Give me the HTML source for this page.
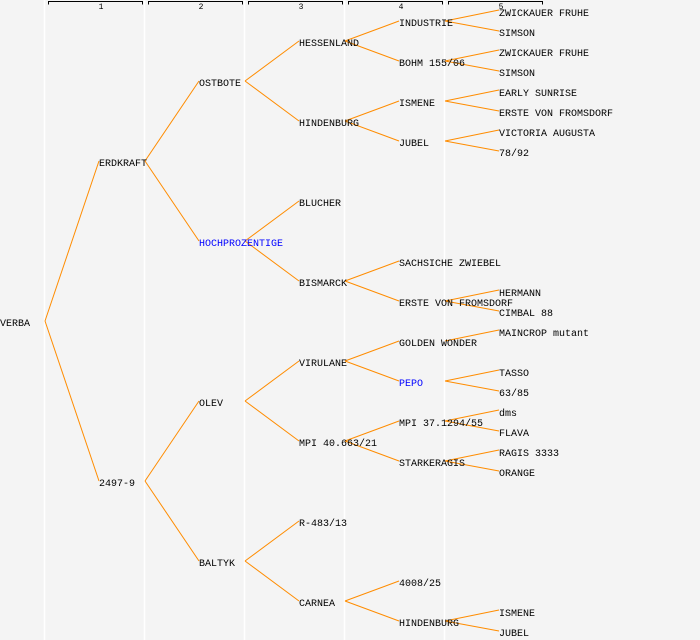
<!DOCTYPE html>
<html><head><style>
html,body{margin:0;padding:0;background:#f4f4f4;}
svg{display:block;}
text{font-family:"Liberation Mono","DejaVu Sans Mono",monospace;font-size:10px;fill:#000;}
.b{fill:#0000ff;}
line.c{stroke:#ff8c00;stroke-width:1;}
</style></head><body>
<svg width="700" height="640" xmlns="http://www.w3.org/2000/svg">
<rect width="700" height="640" fill="#f4f4f4"/>
<g stroke="#fff" stroke-width="1.5">
<line x1="44.5" y1="0" x2="44.5" y2="640"/><line x1="144.5" y1="0" x2="144.5" y2="640"/>
<line x1="244.5" y1="0" x2="244.5" y2="640"/><line x1="344.5" y1="0" x2="344.5" y2="640"/>
<line x1="444.5" y1="0" x2="444.5" y2="640"/>
</g>
<g stroke="#000" fill="none" stroke-width="1">
<path d="M48.5,4.5V1.5H142.5V4.5"/><path d="M148.5,4.5V1.5H242.5V4.5"/>
<path d="M248.5,4.5V1.5H342.5V4.5"/><path d="M348.5,4.5V1.5H442.5V4.5"/>
<path d="M448.5,4.5V1.5H542.5V4.5"/>
</g>
<g style="font-size:8px" text-anchor="middle">
<text x="101" y="9" style="font-size:8px">1</text><text x="201" y="9" style="font-size:8px">2</text>
<text x="301" y="9" style="font-size:8px">3</text><text x="401" y="9" style="font-size:8px">4</text>
<text x="501" y="9" style="font-size:8px">5</text>
</g>
<g>
<line class="c" x1="45" y1="321" x2="99" y2="161"/><line class="c" x1="45" y1="321" x2="99" y2="481"/>
<line class="c" x1="145" y1="161" x2="199" y2="81"/><line class="c" x1="145" y1="161" x2="199" y2="241"/>
<line class="c" x1="145" y1="481" x2="199" y2="401"/><line class="c" x1="145" y1="481" x2="199" y2="561"/>
<line class="c" x1="245" y1="81" x2="299" y2="41"/><line class="c" x1="245" y1="81" x2="299" y2="121"/>
<line class="c" x1="245" y1="241" x2="299" y2="201"/><line class="c" x1="245" y1="241" x2="299" y2="281"/>
<line class="c" x1="245" y1="401" x2="299" y2="361"/><line class="c" x1="245" y1="401" x2="299" y2="441"/>
<line class="c" x1="245" y1="561" x2="299" y2="521"/><line class="c" x1="245" y1="561" x2="299" y2="601"/>
<line class="c" x1="345" y1="41" x2="399" y2="21"/><line class="c" x1="345" y1="41" x2="399" y2="61"/>
<line class="c" x1="345" y1="121" x2="399" y2="101"/><line class="c" x1="345" y1="121" x2="399" y2="141"/>
<line class="c" x1="345" y1="281" x2="399" y2="261"/><line class="c" x1="345" y1="281" x2="399" y2="301"/>
<line class="c" x1="345" y1="361" x2="399" y2="341"/><line class="c" x1="345" y1="361" x2="399" y2="381"/>
<line class="c" x1="345" y1="441" x2="399" y2="421"/><line class="c" x1="345" y1="441" x2="399" y2="461"/>
<line class="c" x1="345" y1="601" x2="399" y2="581"/><line class="c" x1="345" y1="601" x2="399" y2="621"/>
<line class="c" x1="445" y1="21" x2="499" y2="10"/><line class="c" x1="445" y1="21" x2="499" y2="31"/>
<line class="c" x1="445" y1="61" x2="499" y2="50"/><line class="c" x1="445" y1="61" x2="499" y2="71"/>
<line class="c" x1="445" y1="101" x2="499" y2="90"/><line class="c" x1="445" y1="101" x2="499" y2="111"/>
<line class="c" x1="445" y1="141" x2="499" y2="130"/><line class="c" x1="445" y1="141" x2="499" y2="151"/>
<line class="c" x1="445" y1="301" x2="499" y2="290"/><line class="c" x1="445" y1="301" x2="499" y2="311"/>
<line class="c" x1="445" y1="341" x2="499" y2="330"/>
<line class="c" x1="445" y1="381" x2="499" y2="370"/><line class="c" x1="445" y1="381" x2="499" y2="391"/>
<line class="c" x1="445" y1="421" x2="499" y2="410"/><line class="c" x1="445" y1="421" x2="499" y2="431"/>
<line class="c" x1="445" y1="461" x2="499" y2="450"/><line class="c" x1="445" y1="461" x2="499" y2="471"/>
<line class="c" x1="445" y1="621" x2="499" y2="610"/><line class="c" x1="445" y1="621" x2="499" y2="631"/>
</g>
<g>
<text x="0" y="326">VERBA</text>
<text x="99" y="166">ERDKRAFT</text><text x="99" y="486">2497-9</text>
<text x="199" y="86">OSTBOTE</text><text x="199" y="246" class="b">HOCHPROZENTIGE</text>
<text x="199" y="406">OLEV</text><text x="199" y="566">BALTYK</text>
<text x="299" y="46">HESSENLAND</text><text x="299" y="126">HINDENBURG</text>
<text x="299" y="206">BLUCHER</text><text x="299" y="286">BISMARCK</text>
<text x="299" y="366">VIRULANE</text><text x="299" y="446">MPI 40.663/21</text>
<text x="299" y="526">R-483/13</text><text x="299" y="606">CARNEA</text>
<text x="399" y="26">INDUSTRIE</text><text x="399" y="66">BOHM 155/06</text>
<text x="399" y="106">ISMENE</text><text x="399" y="146">JUBEL</text>
<text x="399" y="266">SACHSICHE ZWIEBEL</text><text x="399" y="306">ERSTE VON FROMSDORF</text>
<text x="399" y="346">GOLDEN WONDER</text><text x="399" y="386" class="b">PEPO</text>
<text x="399" y="426">MPI 37.1294/55</text><text x="399" y="466">STARKERAGIS</text>
<text x="399" y="586">4008/25</text><text x="399" y="626">HINDENBURG</text>
<text x="499" y="16">ZWICKAUER FRUHE</text><text x="499" y="36">SIMSON</text>
<text x="499" y="56">ZWICKAUER FRUHE</text><text x="499" y="76">SIMSON</text>
<text x="499" y="96">EARLY SUNRISE</text><text x="499" y="116">ERSTE VON FROMSDORF</text>
<text x="499" y="136">VICTORIA AUGUSTA</text><text x="499" y="156">78/92</text>
<text x="499" y="296">HERMANN</text><text x="499" y="316">CIMBAL 88</text>
<text x="499" y="336">MAINCROP mutant</text>
<text x="499" y="376">TASSO</text><text x="499" y="396">63/85</text>
<text x="499" y="416">dms</text><text x="499" y="436">FLAVA</text>
<text x="499" y="456">RAGIS 3333</text><text x="499" y="476">ORANGE</text>
<text x="499" y="616">ISMENE</text><text x="499" y="636">JUBEL</text>
</g>
</svg>
</body></html>
